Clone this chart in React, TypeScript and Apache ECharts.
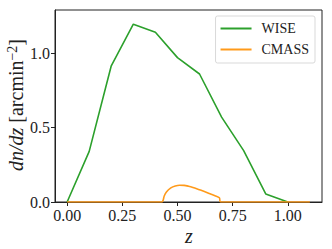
import React, { useEffect, useRef } from "react";
import * as echarts from "echarts";

const wiseZ = [0, 0.1, 0.2, 0.3, 0.4, 0.5, 0.6, 0.7, 0.8, 0.9, 1.0];
const wiseN = [0, 0.34, 0.915, 1.195, 1.14, 0.97, 0.86, 0.57, 0.345, 0.054, 0];

const cmassZ = [0, 0.43, 0.435, 0.44, 0.45, 0.47, 0.49, 0.51, 0.53, 0.55, 0.57, 0.59, 0.61, 0.63, 0.65, 0.67, 0.69, 0.695, 1.1];
const cmassN = [0, 0, 0.012, 0.04, 0.068, 0.095, 0.108, 0.113, 0.112, 0.106, 0.098, 0.088, 0.077, 0.066, 0.054, 0.042, 0.028, 0, 0];

const xTicks = [0, 0.25, 0.5, 0.75, 1.0];
const yTicks = [0, 0.5, 1.0];

const FONT = "Liberation Serif";

export default function App() {
  const ref = useRef<HTMLDivElement>(null);
  useEffect(() => {
    if (!ref.current) return;
    const chart = echarts.init(ref.current, undefined, { renderer: "svg" });
    chart.setOption({
      animation: false,
      backgroundColor: "#ffffff",
      textStyle: { fontFamily: FONT },
      grid: {
        left: 55,
        top: 10,
        right: 10,
        bottom: 47,
        show: true,
        borderColor: "#222",
        borderWidth: 1,
        backgroundColor: "transparent",
      },
      legend: {
        orient: "vertical",
        right: 17,
        top: 16,
        padding: [5, 6, 6, 5],
        icon: "rect",
        itemWidth: 31,
        itemHeight: 2,
        itemGap: 6,
        borderColor: "#d9d9d9",
        borderWidth: 1,
        borderRadius: 2,
        backgroundColor: "#fff",
        textStyle: { fontFamily: FONT, fontSize: 14, color: "#222", padding: [0, 0, 0, 5], lineHeight: 15 },
        data: [{ name: "WISE" }, { name: "CMASS" }],
      },
      xAxis: {
        type: "value",
        min: -0.055,
        max: 1.155,
        splitLine: { show: false },
        axisLine: { show: true, onZero: false, lineStyle: { color: "#222", width: 1 } },
        axisTick: { show: true, length: 4, lineStyle: { color: "#222" }, customValues: xTicks },
        axisLabel: {
          customValues: xTicks,
          fontFamily: FONT,
          fontSize: 16,
          color: "#222",
          margin: 5,
          formatter: (v: number) => v.toFixed(2),
        },
      },
      yAxis: {
        type: "value",
        min: 0,
        max: 1.29,
        splitLine: { show: false },
        axisLine: { show: true, onZero: false, lineStyle: { color: "#222", width: 1 } },
        axisTick: { show: true, length: 4, lineStyle: { color: "#222" }, customValues: yTicks },
        axisLabel: {
          customValues: yTicks,
          fontFamily: FONT,
          fontSize: 16,
          color: "#222",
          margin: 5,
          formatter: (v: number) => v.toFixed(1),
        },
      },
      graphic: [
        {
          type: "text",
          x: 16,
          y: 105,
          rotation: Math.PI / 2,
          style: {
            text: "{i|dn/dz} {r|[arcmin}{s|−2}{r|]}",
            align: "center",
            verticalAlign: "middle",
            fill: "#222",
            fontFamily: FONT,
            fontSize: 20,
            rich: {
              i: { fontFamily: FONT, fontSize: 20, fontStyle: "italic", fill: "#222" },
              r: { fontFamily: FONT, fontSize: 20, fill: "#222" },
              s: { fontFamily: FONT, fontSize: 14, fill: "#222", padding: [0, 0, 8, 0] },
            },
          },
        },
        {
          type: "text",
          x: 189,
          y: 236,
          style: {
            text: "z",
            align: "center",
            verticalAlign: "middle",
            fill: "#222",
            fontFamily: FONT,
            fontSize: 20,
            fontStyle: "italic",
          },
        },
      ],
      series: [
        {
          name: "WISE",
          type: "line",
          data: wiseZ.map((z, i) => [z, wiseN[i]]),
          symbol: "none",
          lineStyle: { color: "#2ca02c", width: 1.6 },
          itemStyle: { color: "#2ca02c" },
        },
        {
          name: "CMASS",
          type: "line",
          data: cmassZ.map((z, i) => [z, cmassN[i]]),
          symbol: "none",
          smooth: 0.3,
          lineStyle: { color: "#ff9a1a", width: 1.6 },
          itemStyle: { color: "#ff9a1a" },
        },
      ],
    });
    return () => chart.dispose();
  }, []);
  return (
    <div
      ref={ref}
      style={{ position: "fixed", left: 0, top: 0, width: 332, height: 249 }}
    />
  );
}
